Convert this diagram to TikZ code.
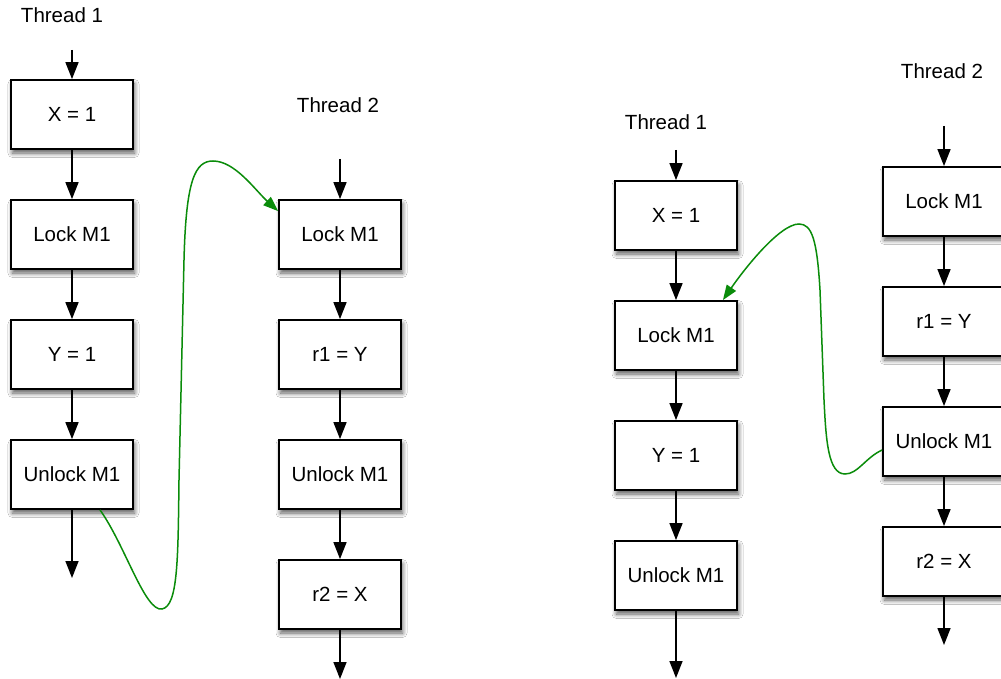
\documentclass[tikz,border=0pt]{standalone}
\usepackage{fontspec}
\setmainfont{Liberation Sans}
\usetikzlibrary{arrows.meta,shadows.blur}
\definecolor{flowgreen}{RGB}{10,140,10}
\tikzset{
  stepbox/.style={draw=black, line width=1.8pt, fill=white, minimum width=122pt, minimum height=69pt,
    inner sep=0pt, font=\fontsize{20.5}{24}\selectfont,
    blur shadow={shadow xshift=1.5pt, shadow yshift=-4pt, shadow blur steps=8, shadow opacity=65, shadow blur radius=4.5pt}},
  lbl/.style={font=\fontsize{20.5}{24}\selectfont, inner sep=0pt},
  flow/.style={draw=black, line width=1.5pt, -{Triangle[length=17pt,width=13pt]}},
  sync/.style={draw=flowgreen, line width=1.5pt, -{Triangle[length=15pt,width=11pt]}}
}
\begin{document}
\begin{tikzpicture}[x=1pt,y=-1pt]
\useasboundingbox[fill=white] (0,0) rectangle (1001,679);
% labels
\node[lbl] (lT1) at (62,15) {Thread 1};
\node[lbl] (lT2) at (338,105) {Thread 2};
\node[lbl] (rT1) at (666,122) {Thread 1};
\node[lbl] (rT2) at (942,71) {Thread 2};
% left thread 1
\node[stepbox] (la1) at (72,114.5) {X = 1};
\node[stepbox] (la2) at (72,234.5) {Lock M1};
\node[stepbox] (la3) at (72,354.5) {Y = 1};
\node[stepbox] (la4) at (72,474.5) {Unlock M1};
% left thread 2
\node[stepbox] (lb1) at (340,234.5) {Lock M1};
\node[stepbox] (lb2) at (340,354.5) {r1 = Y};
\node[stepbox] (lb3) at (340,474.5) {Unlock M1};
\node[stepbox] (lb4) at (340,594.5) {r2 = X};
% right thread 1
\node[stepbox] (ra1) at (676,215.5) {X = 1};
\node[stepbox] (ra2) at (676,335.5) {Lock M1};
\node[stepbox] (ra3) at (676,455.5) {Y = 1};
\node[stepbox] (ra4) at (676,575.5) {Unlock M1};
% right thread 2
\node[stepbox] (rb1) at (944,201.5) {Lock M1};
\node[stepbox] (rb2) at (944,321.5) {r1 = Y};
\node[stepbox] (rb3) at (944,441.5) {Unlock M1};
\node[stepbox] (rb4) at (944,561.5) {r2 = X};
% free ends
\coordinate (laIn) at (72,50);
\coordinate (laOut) at (72,578);
\coordinate (lbIn) at (340,159);
\coordinate (lbOut) at (340,679);
\coordinate (raIn) at (676,150);
\coordinate (raOut) at (676,678);
\coordinate (rbIn) at (944,126);
\coordinate (rbOut) at (944,645);
% flows
\draw[flow] (laIn) -- (la1.north);
\draw[flow] (la1) -- (la2);
\draw[flow] (la2) -- (la3);
\draw[flow] (la3) -- (la4);
\draw[flow] (la4.south) -- (laOut);
\draw[flow] (lbIn) -- (lb1.north);
\draw[flow] (lb1) -- (lb2);
\draw[flow] (lb2) -- (lb3);
\draw[flow] (lb3) -- (lb4);
\draw[flow] (lb4.south) -- (lbOut);
\draw[flow] (raIn) -- (ra1.north);
\draw[flow] (ra1) -- (ra2);
\draw[flow] (ra2) -- (ra3);
\draw[flow] (ra3) -- (ra4);
\draw[flow] (ra4.south) -- (raOut);
\draw[flow] (rbIn) -- (rb1.north);
\draw[flow] (rb1) -- (rb2);
\draw[flow] (rb2) -- (rb3);
\draw[flow] (rb3) -- (rb4);
\draw[flow] (rb4.south) -- (rbOut);
% synchronisation curves
\draw[sync] ([xshift=28pt]la4.south) .. controls (125,545) and (145,612) .. (162,609)
  .. controls (178,606) and (178,560) .. (179,480)
  -- (184,260)
  .. controls (186,180) and (195,161) .. (213,161)
  .. controls (235,161) and (255,190) .. ([yshift=-12pt]lb1.north west);
\draw[sync] ([yshift=-8.5pt]rb3.west) .. controls (865,458) and (858,474) .. (845,474)
  .. controls (828,474) and (826,440) .. (824,400)
  -- (820,290)
  .. controls (817,240) and (812,224) .. (799,224)
  .. controls (780,224) and (745,268) .. ([xshift=-15pt]ra2.north east);
\end{tikzpicture}
\end{document}
